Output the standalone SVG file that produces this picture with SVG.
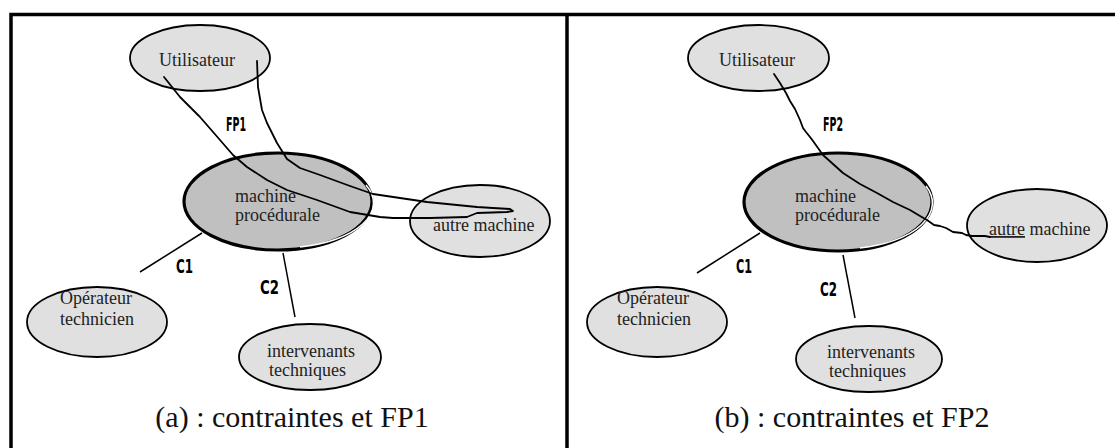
<svg xmlns="http://www.w3.org/2000/svg" width="1115" height="448" viewBox="0 0 1115 448">
<style>
.frame{fill:none;stroke:#000;stroke-width:3.5}
.node{fill:#e0e0e0;stroke:#000;stroke-width:1.8}
.core{fill:#c0c0c0;stroke:#000;stroke-width:3.2}
.rim{fill:none;stroke:#fff;stroke-width:1.5}
.t{font-size:18px;fill:#222}
.cap{font-size:30px;fill:#111;text-anchor:middle}
.lbl{font-weight:bold;font-size:20px;fill:#000}
.c{fill:none;stroke:#000;stroke-width:1.8;stroke-linejoin:round;stroke-linecap:round}
.s{fill:none;stroke:#000;stroke-width:1.5}
</style>
<rect width="1115" height="448" fill="#fff"/>
<g id="frame">
<path class="frame" d="M11,450 V14.5 H1116 M567,14.5 V450"/>
</g>

<g font-family="Liberation Serif, Tinos, Times New Roman, DejaVu Serif, serif">
<g id="panel-a">
<g id="a-utilisateur">
<ellipse class="node" cx="200" cy="58" rx="70" ry="33"/>
<text class="t" x="159" y="66">Utilisateur</text>
</g>
<g id="a-machine">
<ellipse class="core" cx="278" cy="201.5" rx="94" ry="48.5"/>
<path class="rim" d="M366,185 A91,45 0 0 1 300,247"/>
<text class="t" x="235" y="202">machine</text>
<text class="t" x="235" y="221">procédurale</text>
</g>
<g id="a-autre">
<ellipse class="node" cx="480" cy="221" rx="70" ry="36"/>
<text class="t" x="433" y="231">autre machine</text>
</g>
<g id="a-operateur">
<ellipse class="node" cx="97" cy="322" rx="70" ry="35"/>
<text class="t" x="60" y="304">Opérateur</text>
<text class="t" x="60" y="325">technicien</text>
</g>
<g id="a-intervenants">
<ellipse class="node" cx="310" cy="357" rx="71" ry="33"/>
<text class="t" x="267" y="357">intervenants</text>
<text class="t" x="269" y="376">techniques</text>
</g>
<text class="cap" x="292" y="427">(a) : contraintes et FP1</text>
</g>

<g id="panel-b">
<g id="b-utilisateur">
<ellipse class="node" cx="758.5" cy="58" rx="70.5" ry="33"/>
<text class="t" x="719" y="66">Utilisateur</text>
</g>
<g id="b-machine">
<ellipse class="core" cx="838" cy="202" rx="94" ry="49"/>
<path class="rim" d="M926,186 A91,46 0 0 1 860,248"/>
<text class="t" x="795" y="202">machine</text>
<text class="t" x="795" y="221">procédurale</text>
</g>
<g id="b-autre">
<ellipse class="node" cx="1037" cy="225.5" rx="70" ry="36.5"/>
<text class="t" x="989" y="235"><tspan text-decoration="underline">autre</tspan> machine</text>
</g>
<g id="b-operateur">
<ellipse class="node" cx="657" cy="322" rx="70" ry="35"/>
<text class="t" x="617" y="304">Opérateur</text>
<text class="t" x="617" y="325">technicien</text>
</g>
<g id="b-intervenants">
<ellipse class="node" cx="869" cy="359" rx="73" ry="33"/>
<text class="t" x="827" y="358">intervenants</text>
<text class="t" x="829" y="377">techniques</text>
</g>
<text class="cap" x="852" y="427">(b) : contraintes et FP2</text>
</g>
</g>

<g id="connectors" font-family="DejaVu Sans Condensed, Liberation Sans, Arial, sans-serif">
<path class="c" d="M164,77 L180,97 L200,117 L220,140 L233,155 L247,167 L267,180 L287,190 L317,200 L350,212 L380,217 L393,218 L430,218 L467,217 L477,213 L507,212 L513,211 L510,209 L493,208 L477,207 L427,202 L373,194 L350,186 L320,175 L300,168 L287,159 L277,143 L267,123 L262,110 L258,87 L257,61"/>
<text class="lbl" x="226" y="131" textLength="20" lengthAdjust="spacingAndGlyphs">FP1</text>
<line class="s" x1="140" y1="272" x2="202" y2="233"/>
<text class="lbl" x="176" y="273" textLength="17" lengthAdjust="spacingAndGlyphs">C1</text>
<line class="s" x1="283" y1="253" x2="295" y2="317"/>
<text class="lbl" x="260" y="294" textLength="19" lengthAdjust="spacingAndGlyphs">C2</text>

<path class="c" d="M774,74 L780,83 L786,93 L790,101 L795,109 L800,120 L803,128 L806,132 L810,137 L813,141 L818,148 L823,155 L833,164 L843,173 L860,184 L877,193 L893,202 L910,210 L920,216 L927,220 L934,225 L940,226 L946,228 L953,232 L962,233 L966,235 L972,236 L985,236 L990,237"/>
<text class="lbl" x="823" y="131" textLength="20" lengthAdjust="spacingAndGlyphs">FP2</text>
<line class="s" x1="697" y1="273" x2="760" y2="233"/>
<text class="lbl" x="736" y="273" textLength="16" lengthAdjust="spacingAndGlyphs">C1</text>
<line class="s" x1="843" y1="255" x2="855" y2="318"/>
<text class="lbl" x="820" y="296" textLength="17" lengthAdjust="spacingAndGlyphs">C2</text>
</g>
</svg>
